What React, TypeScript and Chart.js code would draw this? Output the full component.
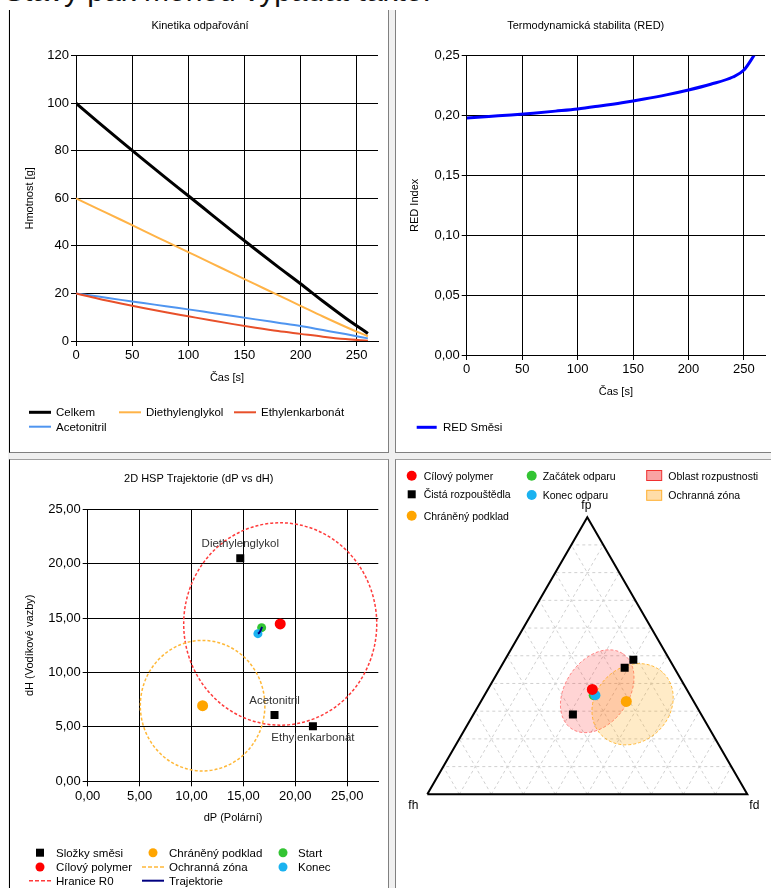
import React, { useEffect, useRef } from 'react';
import { Chart, registerables } from 'chart.js';

Chart.register(...registerables);

const FONT = "'Liberation Sans', Arial, sans-serif";

// Kinetika odpařování – hmotnost složek [g] v čase [s]
const TIME_S = [0, 20, 40, 60, 80, 100, 120, 140, 160, 180, 200, 220, 240, 260];
const MASS_TOTAL = [100, 92.0, 84.1, 76.3, 68.6, 61.1, 53.5, 45.9, 38.5, 31.2, 24.1, 16.7, 9.7, 3.2];
const MASS_DEG = [60, 55.5, 51.0, 46.4, 41.9, 37.4, 32.9, 28.3, 23.8, 19.3, 14.8, 10.3, 6.0, 2.0];
const MASS_EC = [20, 17.8, 15.8, 13.9, 12.1, 10.4, 8.7, 7.1, 5.6, 4.2, 3.0, 1.8, 0.8, 0.1];
const MASS_ACN = [20, 18.7, 17.3, 16.0, 14.6, 13.3, 11.9, 10.5, 9.1, 7.7, 6.3, 4.6, 2.9, 1.1];
const KINETICS_NAMES = ['Celkem', 'Diethylenglykol', 'Ethylenkarbonát', 'Acetonitril'];
const KINETICS_SERIES = [MASS_TOTAL, MASS_DEG, MASS_EC, MASS_ACN];
const KINETICS_COLORS = ['#000000', '#FFB347', '#E8502A', '#4F95F0'];
const KINETICS_WIDTHS = [3, 2, 2, 2];

// RED index směsi v čase
const RED_TIME_S = [0, 20, 40, 60, 80, 100, 120, 140, 160, 180, 200, 220, 240, 250, 260];
const RED_VALUES = [0.198, 0.1993, 0.2005, 0.202, 0.2037, 0.2055, 0.208, 0.2107, 0.2138, 0.2173, 0.2214, 0.2262, 0.2322, 0.238, 0.2515];

// Hansenovy parametry rozpouštědel [dD, dP, dH]
const SOLVENT_NAMES = ['Diethylenglykol', 'Acetonitril', 'Ethylenkarbonát'];
const SOLVENT_DD = [15.9, 15.3, 17.9];
const SOLVENT_DP = [14.7, 18.0, 21.7];
const SOLVENT_DH = [20.5, 6.1, 5.05];

const POLYMER_HSP = [16.0, 18.55, 14.46];
const SUBSTRATE_HSP = [15.0, 11.07, 6.95];
const START_HSP = [16.0, 16.76, 14.12];
const END_HSP = [15.9, 16.4, 13.57];
const R0_POLYMER = 9.3;
const R_SUBSTRATE = 6.0;

// Trajektorie směsi v rovině dP–dH
const TRAJ_DP = [16.8, 16.74, 16.68, 16.6, 16.5, 16.4];
const TRAJ_DH = [14.2, 14.05, 13.9, 13.75, 13.63, 13.57];

// Oblasti v ternárním diagramu: těžiště (fd, fp), poloosy v délkách strany, natočení [°]
const ZONE_NAMES = ['Oblast rozpustnosti', 'Ochranná zóna'];
const ZONE_FD = [0.345, 0.479];
const ZONE_FP = [0.372, 0.325];
const ZONE_SEMI_A = [0.142, 0.137];
const ZONE_SEMI_B = [0.099, 0.116];
const ZONE_ANGLE = [55, 45];

const C_POLYMER = '#FF0000';
const C_SUBSTRATE = '#FFA500';
const C_START = '#33C433';
const C_END = '#1AB2F0';
const C_R0 = '#FF3B3B';
const C_ZONE = '#FFB838';
const C_TRAJ = '#000080';
const ZONE_FILL = ['rgba(255,0,0,0.17)', 'rgba(255,165,0,0.22)'];
const ZONE_STROKE = ['rgba(255,40,40,0.55)', 'rgba(255,165,0,0.75)'];

const TRI_H = Math.sqrt(3) / 2;

const fmt2 = (v: number) => v.toFixed(2).replace('.', ',');

function linAxis(o: {
  min: number; max: number; step: number; title: string;
  titlePad: { top: number; bottom: number }; fit: (s: any) => void;
  fmt?: (v: number) => string;
}) {
  return {
    type: 'linear',
    min: o.min,
    max: o.max,
    afterFit: o.fit,
    border: { display: true, color: '#000', width: 1 },
    grid: { color: '#000', lineWidth: 1, tickLength: 5, drawTicks: true },
    ticks: {
      stepSize: o.step,
      includeBounds: false,
      autoSkip: false,
      maxRotation: 0,
      color: '#000',
      padding: 2,
      font: { family: FONT, size: 13 },
      callback: (v: any) => (o.fmt ? o.fmt(Number(v)) : String(v)),
    },
    title: {
      display: true, text: o.title, color: '#000',
      font: { family: FONT, size: 11 }, padding: o.titlePad,
    },
  };
}

function titleOpts(text: string, top: number, bottom: number) {
  return {
    display: true, text, color: '#000',
    font: { family: FONT, size: 11, weight: 'normal' as const, lineHeight: 1.2 },
    padding: { top, bottom },
  };
}

const toTernary = (dD: number, dP: number, dH: number) => {
  const s = dD + dP + dH;
  const fd = dD / s;
  const fp = dP / s;
  return { x: fd + fp / 2, y: fp * TRI_H };
};

function kineticsConfig(): any {
  return {
    type: 'line',
    data: {
      datasets: KINETICS_NAMES.map((name, k) => ({
        label: name,
        data: TIME_S.map((t, i) => ({ x: t, y: KINETICS_SERIES[k][i] })),
        borderColor: KINETICS_COLORS[k],
        borderWidth: KINETICS_WIDTHS[k],
        pointRadius: 0,
        cubicInterpolationMode: 'monotone',
        order: k,
      })),
    },
    options: {
      animation: false, responsive: false, maintainAspectRatio: false,
      layout: { padding: { left: 12, right: 10, top: 0, bottom: 51 } },
      plugins: {
        legend: { display: false }, tooltip: { enabled: false },
        title: titleOpts('Kinetika odpařování', 8.4, 23.1),
      },
      scales: {
        x: linAxis({ min: 0, max: 269, step: 50, title: 'Čas [s]', titlePad: { top: 0, bottom: 16.4 }, fit: (s) => { s.height = 60; } }),
        y: linAxis({ min: 0, max: 120, step: 20, title: 'Hmotnost [g]', titlePad: { top: 1.4, bottom: 0 }, fit: (s) => { s.width = 54; } }),
      },
    },
  };
}

function redConfig(): any {
  return {
    type: 'line',
    data: {
      datasets: [{
        label: 'RED Směsi',
        data: RED_TIME_S.map((t, i) => ({ x: t, y: RED_VALUES[i] })),
        borderColor: '#0000FF', borderWidth: 3, pointRadius: 0,
        cubicInterpolationMode: 'monotone',
      }],
    },
    options: {
      animation: false, responsive: false, maintainAspectRatio: false,
      layout: { padding: { left: 10.4, right: 6, top: 0, bottom: 37 } },
      plugins: {
        legend: { display: false }, tooltip: { enabled: false },
        title: titleOpts('Termodynamická stabilita (RED)', 8.4, 23.1),
      },
      scales: {
        x: linAxis({ min: 0, max: 269, step: 50, title: 'Čas [s]', titlePad: { top: 0, bottom: 16.7 }, fit: (s) => { s.height = 60; } }),
        y: linAxis({ min: 0, max: 0.25, step: 0.05, title: 'RED Index', titlePad: { top: 2, bottom: 0 }, fit: (s) => { s.width = 60.3; }, fmt: fmt2 }),
      },
    },
  };
}

const SOLVENT_LABEL_DY = [-14, -14, 11];

const hspDecor = {
  id: 'hspDecor',
  beforeDatasetsDraw(chart: any) {
    const { ctx, scales: { x, y } } = chart;
    const rings = [
      { c: POLYMER_HSP, r: R0_POLYMER, color: C_R0 },
      { c: SUBSTRATE_HSP, r: R_SUBSTRATE, color: C_ZONE },
    ];
    ctx.save();
    rings.forEach((g) => {
      const cx = x.getPixelForValue(g.c[1]);
      const cy = y.getPixelForValue(g.c[2]);
      const rx = Math.abs(x.getPixelForValue(g.c[1] + g.r) - cx);
      const ry = Math.abs(y.getPixelForValue(g.c[2] + g.r) - cy);
      ctx.beginPath();
      ctx.ellipse(cx, cy, rx, ry, 0, 0, Math.PI * 2);
      ctx.setLineDash([3, 2]);
      ctx.lineWidth = 1.5;
      ctx.strokeStyle = g.color;
      ctx.stroke();
    });
    ctx.restore();
  },
  afterDatasetsDraw(chart: any) {
    const { ctx, scales: { x, y } } = chart;
    ctx.save();
    ctx.font = `11.5px ${FONT}`;
    ctx.fillStyle = '#333';
    ctx.textAlign = 'center';
    ctx.textBaseline = 'middle';
    SOLVENT_NAMES.forEach((n, i) => {
      ctx.fillText(n, x.getPixelForValue(SOLVENT_DP[i]), y.getPixelForValue(SOLVENT_DH[i]) + SOLVENT_LABEL_DY[i]);
    });
    ctx.restore();
  },
};

function pointSet(label: string, pts: { x: number; y: number }[], color: string, style: string, radius: number, order: number) {
  return {
    type: 'scatter', label, data: pts,
    pointStyle: style, pointRadius: radius, pointBackgroundColor: color,
    pointBorderWidth: 0, backgroundColor: color, borderColor: color, order,
  };
}

function hspConfig(): any {
  return {
    type: 'scatter',
    data: {
      datasets: [
        {
          type: 'line', label: 'Trajektorie',
          data: TRAJ_DP.map((v, i) => ({ x: v, y: TRAJ_DH[i] })),
          borderColor: C_TRAJ, borderWidth: 2, pointRadius: 0, order: 0,
        },
        pointSet('Složky směsi', SOLVENT_DP.map((v, i) => ({ x: v, y: SOLVENT_DH[i] })), '#000', 'rect', 5.66, 5),
        pointSet('Cílový polymer', [{ x: POLYMER_HSP[1], y: POLYMER_HSP[2] }], C_POLYMER, 'circle', 5.5, 4),
        pointSet('Chráněný podklad', [{ x: SUBSTRATE_HSP[1], y: SUBSTRATE_HSP[2] }], C_SUBSTRATE, 'circle', 5.5, 4),
        pointSet('Start', [{ x: START_HSP[1], y: START_HSP[2] }], C_START, 'circle', 4.5, 3),
        pointSet('Konec', [{ x: END_HSP[1], y: END_HSP[2] }], C_END, 'circle', 4.5, 2),
      ],
    },
    options: {
      animation: false, responsive: false, maintainAspectRatio: false,
      layout: { padding: { left: 9.1, right: 9.7, top: 0, bottom: 46.7 } },
      plugins: {
        legend: { display: false }, tooltip: { enabled: false },
        title: titleOpts('2D HSP Trajektorie (dP vs dH)', 12.7, 23.4),
      },
      scales: {
        x: linAxis({ min: 0, max: 28, step: 5, title: 'dP (Polární)', titlePad: { top: 0, bottom: 17 }, fit: (s) => { s.height = 60; }, fmt: fmt2 }),
        y: linAxis({ min: 0, max: 25, step: 5, title: 'dH (Vodíkové vazby)', titlePad: { top: 4.3, bottom: 0 }, fit: (s) => { s.width = 68.6; }, fmt: fmt2 }),
      },
    },
    plugins: [hspDecor],
  };
}

const ternaryDecor = {
  id: 'ternaryDecor',
  beforeDatasetsDraw(chart: any) {
    const { ctx, scales: { x, y } } = chart;
    const P = (fd: number, fp: number) => [x.getPixelForValue(fd + fp / 2), y.getPixelForValue(fp * TRI_H)];
    const seg = (a: number[], b: number[]) => {
      ctx.beginPath();
      ctx.moveTo(a[0], a[1]);
      ctx.lineTo(b[0], b[1]);
      ctx.stroke();
    };
    ctx.save();
    ctx.strokeStyle = '#d0d0d0';
    ctx.lineWidth = 1;
    ctx.setLineDash([3, 3]);
    for (let k = 1; k < 10; k++) {
      const t = k / 10;
      seg(P(1 - t, t), P(0, t));
      seg(P(t, 0), P(t, 1 - t));
      seg(P(1 - t, 0), P(0, 1 - t));
    }
    const unit = Math.abs(x.getPixelForValue(1) - x.getPixelForValue(0));
    ZONE_NAMES.forEach((_, i) => {
      const c = P(ZONE_FD[i], ZONE_FP[i]);
      ctx.beginPath();
      ctx.ellipse(c[0], c[1], ZONE_SEMI_A[i] * unit, ZONE_SEMI_B[i] * unit, (-ZONE_ANGLE[i] * Math.PI) / 180, 0, Math.PI * 2);
      ctx.fillStyle = ZONE_FILL[i];
      ctx.fill();
      ctx.setLineDash([3, 2]);
      ctx.strokeStyle = ZONE_STROKE[i];
      ctx.stroke();
    });
    ctx.restore();
  },
  afterDraw(chart: any) {
    const { ctx, scales: { x, y } } = chart;
    ctx.save();
    ctx.font = `12px ${FONT}`;
    ctx.fillStyle = '#000';
    ctx.textAlign = 'center';
    ctx.textBaseline = 'middle';
    ctx.fillText('fp', x.getPixelForValue(0.5) - 1, y.getPixelForValue(TRI_H) - 12);
    ctx.fillText('fh', x.getPixelForValue(0) - 14, y.getPixelForValue(0) + 11.5);
    ctx.fillText('fd', x.getPixelForValue(1) + 7, y.getPixelForValue(0) + 11.5);
    ctx.restore();
  },
};

function ternaryConfig(): any {
  const solventPts = SOLVENT_NAMES.map((_, i) => toTernary(SOLVENT_DD[i], SOLVENT_DP[i], SOLVENT_DH[i]));
  return {
    type: 'scatter',
    data: {
      datasets: [
        {
          type: 'line', label: 'triangle',
          data: [{ x: 0, y: 0 }, { x: 1, y: 0 }, { x: 0.5, y: TRI_H }, { x: 0, y: 0 }],
          borderColor: '#000', borderWidth: 2, pointRadius: 0, clip: false, order: 9,
        },
        pointSet('Čistá rozpouštědla', solventPts, '#000', 'rect', 5.66, 5),
        pointSet('Chráněný podklad', [toTernary(SUBSTRATE_HSP[0], SUBSTRATE_HSP[1], SUBSTRATE_HSP[2])], C_SUBSTRATE, 'circle', 5.5, 4),
        pointSet('Začátek odparu', [toTernary(START_HSP[0], START_HSP[1], START_HSP[2])], C_START, 'circle', 5, 3),
        pointSet('Konec odparu', [toTernary(END_HSP[0], END_HSP[1], END_HSP[2])], C_END, 'circle', 5, 2),
        pointSet('Cílový polymer', [toTernary(POLYMER_HSP[0], POLYMER_HSP[1], POLYMER_HSP[2])], C_POLYMER, 'circle', 5.5, 1),
      ],
    },
    options: {
      animation: false, responsive: false, maintainAspectRatio: false,
      layout: { padding: { left: 31.3, right: 23.7, top: 57.2, bottom: 93.7 } },
      plugins: { legend: { display: false }, tooltip: { enabled: false }, title: { display: false } },
      scales: {
        x: { type: 'linear', min: 0, max: 1, display: false },
        y: { type: 'linear', min: 0, max: TRI_H, display: false },
      },
    },
    plugins: [ternaryDecor],
  };
}

function ChartCanvas({ make, left, top, width, height }: { make: () => any; left: number; top: number; width: number; height: number }) {
  const ref = useRef<HTMLCanvasElement | null>(null);
  useEffect(() => {
    if (!ref.current) return;
    const chart = new Chart(ref.current, make());
    return () => chart.destroy();
  }, []);
  return <canvas ref={ref} width={width} height={height} style={{ position: 'absolute', left, top, width, height }} />;
}

const LEG = 11.5;

function LegText({ x, y, t, size = LEG }: { x: number; y: number; t: string; size?: number }) {
  return (
    <text x={x} y={y} dominantBaseline="central" fontFamily={FONT} fontSize={size} fill="#000">{t}</text>
  );
}

function Legends() {
  const tlPos = [[29, 412.3], [119, 412.3], [234, 412.3], [29, 426.7]];
  const bl = {
    c1: 40, t1: 56, c2: 153, t2: 169, c3: 283, t3: 298,
    r1: 852.7, r2: 867, r3: 880.7,
  };
  const tr = { c1: 411.7, t1: 423.7, c2: 531.7, t2: 542.7, b3: 646.7, t3: 668.3 };
  const TS = 10.5;
  return (
    <svg width={771} height={888} style={{ position: 'absolute', left: 0, top: 0, pointerEvents: 'none' }}>
      {KINETICS_NAMES.map((n, k) => (
        <g key={n}>
          <line x1={tlPos[k][0]} x2={tlPos[k][0] + 22} y1={tlPos[k][1]} y2={tlPos[k][1]} stroke={KINETICS_COLORS[k]} strokeWidth={KINETICS_WIDTHS[k]} />
          <LegText x={tlPos[k][0] + 27} y={tlPos[k][1]} t={n} />
        </g>
      ))}

      <line x1={416.7} x2={436.7} y1={427.3} y2={427.3} stroke="#0000FF" strokeWidth={3} />
      <LegText x={443} y={427.3} t="RED Směsi" />

      <rect x={bl.c1 - 4} y={bl.r1 - 4} width={8} height={8} fill="#000" />
      <LegText x={bl.t1} y={bl.r1} t="Složky směsi" />
      <circle cx={bl.c1} cy={bl.r2} r={4.5} fill={C_POLYMER} />
      <LegText x={bl.t1} y={bl.r2} t="Cílový polymer" />
      <line x1={29} x2={51} y1={bl.r3} y2={bl.r3} stroke={C_R0} strokeWidth={1.5} strokeDasharray="4 2" />
      <LegText x={bl.t1} y={bl.r3} t="Hranice R0" />
      <circle cx={bl.c2} cy={bl.r1} r={4.5} fill={C_SUBSTRATE} />
      <LegText x={bl.t2} y={bl.r1} t="Chráněný podklad" />
      <line x1={142} x2={164} y1={bl.r2} y2={bl.r2} stroke={C_ZONE} strokeWidth={1.5} strokeDasharray="4 2" />
      <LegText x={bl.t2} y={bl.r2} t="Ochranná zóna" />
      <line x1={142} x2={164} y1={bl.r3} y2={bl.r3} stroke={C_TRAJ} strokeWidth={2} />
      <LegText x={bl.t2} y={bl.r3} t="Trajektorie" />
      <circle cx={bl.c3} cy={bl.r1} r={4.5} fill={C_START} />
      <LegText x={bl.t3} y={bl.r1} t="Start" />
      <circle cx={bl.c3} cy={bl.r2} r={4.5} fill={C_END} />
      <LegText x={bl.t3} y={bl.r2} t="Konec" />

      <circle cx={tr.c1} cy={475.7} r={5} fill={C_POLYMER} />
      <LegText x={tr.t1} y={475.7} t="Cílový polymer" size={TS} />
      <rect x={tr.c1 - 4} y={494.3 - 4} width={8} height={8} fill="#000" />
      <LegText x={tr.t1} y={494.3} t="Čistá rozpouštědla" size={TS} />
      <circle cx={tr.c1} cy={515.7} r={5} fill={C_SUBSTRATE} />
      <LegText x={tr.t1} y={515.7} t="Chráněný podklad" size={TS} />
      <circle cx={tr.c2} cy={475.7} r={5} fill={C_START} />
      <LegText x={tr.t2} y={475.7} t="Začátek odparu" size={TS} />
      <circle cx={tr.c2} cy={495} r={5} fill={C_END} />
      <LegText x={tr.t2} y={495} t="Konec odparu" size={TS} />
      {ZONE_NAMES.map((n, i) => (
        <g key={n}>
          <rect x={tr.b3} y={[470.5, 490.3][i]} width={15} height={10} fill={['#F9A3A3', '#FFDDA8'][i]} stroke={['#F03030', '#FFB030'][i]} strokeWidth={1} />
          <LegText x={tr.t3} y={[475.5, 495.3][i]} t={n} size={TS} />
        </g>
      ))}
    </svg>
  );
}

export default function App() {
  const panel = (left: number, top: number, width: number, height: number, b: any) => (
    <div style={{ position: 'absolute', left, top, width, height, background: '#fff', boxSizing: 'border-box', ...b }} />
  );
  return (
    <div style={{ position: 'absolute', left: 0, top: 0, width: 771, height: 888, overflow: 'hidden', background: '#fff', fontFamily: FONT }}>
      <div style={{ position: 'absolute', left: 4, top: -24.4, fontSize: 30, lineHeight: '30px', whiteSpace: 'nowrap', color: '#111', fontFamily: FONT }}>
        Stavy pak mohou vypadat takto:
      </div>
      <div style={{ position: 'absolute', left: 8, top: 10, width: 763, height: 878, background: '#f0f0f0' }} />
      {panel(9, 10, 380, 443, { borderLeft: '1px solid #000', borderRight: '1px solid #808080', borderBottom: '1px solid #808080' })}
      {panel(395, 10, 380, 443, { borderLeft: '1px solid #808080', borderBottom: '1px solid #808080' })}
      {panel(9, 459, 380, 440, { borderLeft: '1px solid #000', borderRight: '1px solid #808080', borderTop: '1px solid #a0a0a0' })}
      {panel(395, 459, 380, 440, { borderLeft: '1px solid #808080', borderTop: '1px solid #a0a0a0' })}
      <ChartCanvas make={kineticsConfig} left={10} top={11} width={378} height={441} />
      <ChartCanvas make={redConfig} left={396} top={11} width={375} height={441} />
      <ChartCanvas make={hspConfig} left={10} top={460} width={378} height={428} />
      <ChartCanvas make={ternaryConfig} left={396} top={460} width={375} height={428} />
      <Legends />
    </div>
  );
}
